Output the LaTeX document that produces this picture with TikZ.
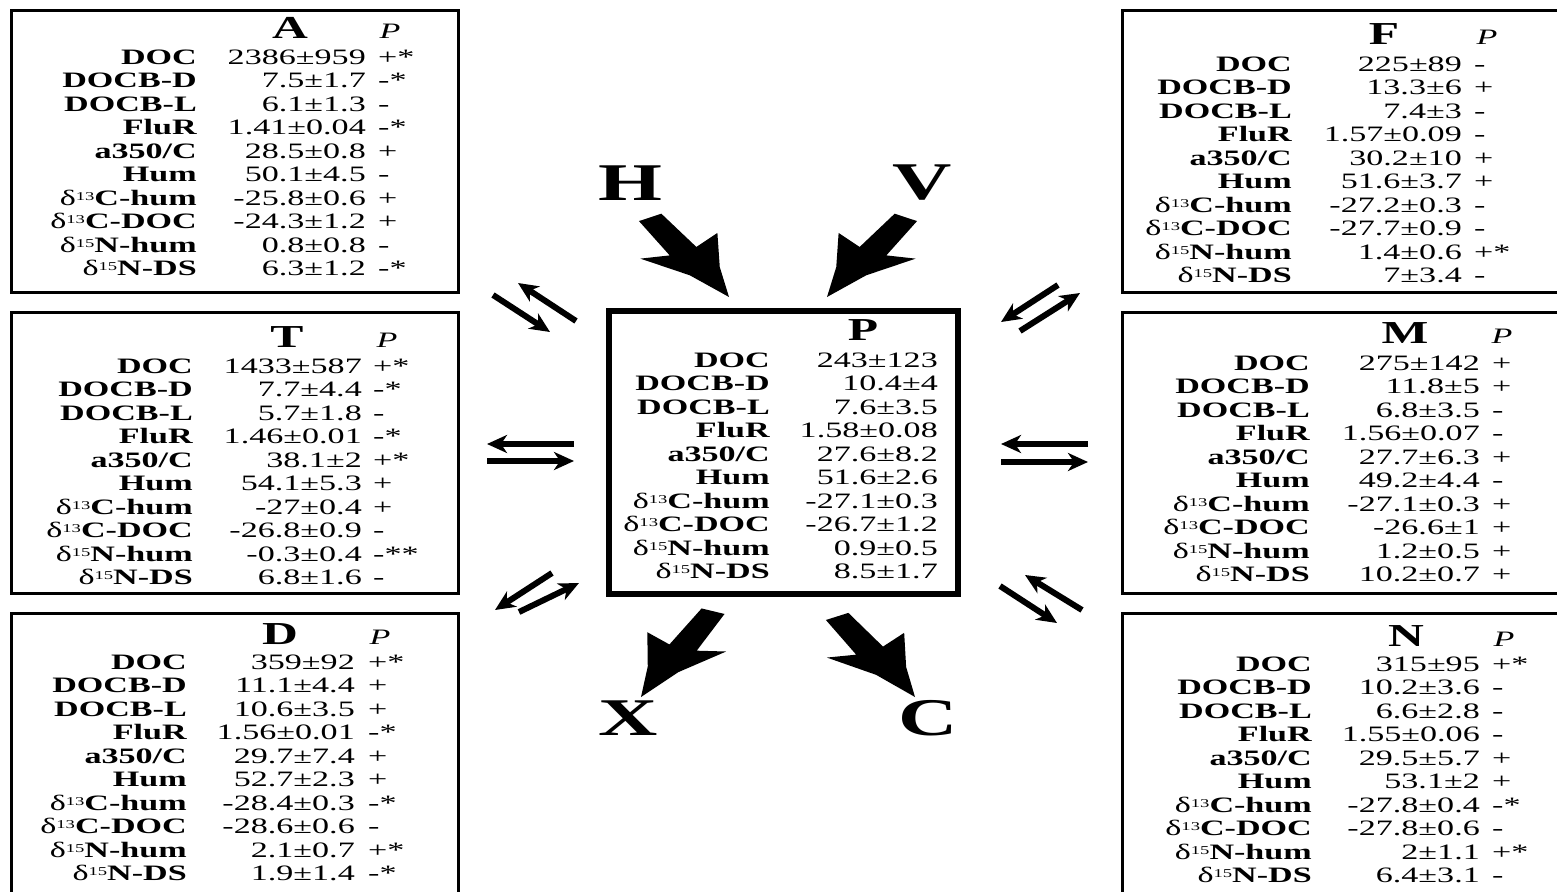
\documentclass[tikz,border=0pt]{standalone}
\usepackage{fontspec}
\setmainfont{Liberation Serif}[FakeStretch=1.55]
\usetikzlibrary{arrows.meta}
\newcommand\dl[1]{{\mdseries δ\raisebox{0.5ex}{\fontsize{12}{12}\selectfont #1}}}
\tikzset{
  lab/.style={font=\fontsize{22}{22}\selectfont\bfseries, inner sep=0pt, anchor=base east},
  val/.style={font=\fontsize{22}{22}\selectfont, inner sep=0pt, anchor=base east},
  sgn/.style={font=\fontsize{22}{22}\selectfont, inner sep=0pt, anchor=base west},
  ttl/.style={font=\fontsize{32}{32}\selectfont\bfseries, inner sep=0pt, anchor=base},
  pcol/.style={font=\fontsize{22}{22}\selectfont\itshape, inner sep=0pt, anchor=base},
  big/.style={font=\fontsize{53}{53}\selectfont\bfseries, inner sep=0pt},
  thinbox/.style={draw, line width=3pt},
  thickbox/.style={draw, line width=6pt},
  sarrow/.style={line width=6pt, -{Stealth[length=20pt,width=18pt,inset=6pt]}},
}
\newcommand\labelcol[3]{%
  \foreach \t [count=\i] in {DOC,DOCB-D,DOCB-L,FluR,a350/C,Hum,{\dl{13}C-hum},{\dl{13}C-DOC},{\dl{15}N-hum},{\dl{15}N-DS}}
    \node[lab] (#1l\i) at (#2,{#3+(\i-1)*23.55}) {\t};}
\newcommand\valcol[4]{%
  \foreach \t [count=\i] in {#4}
    \node[val] (#1v\i) at (#2,{#3+(\i-1)*23.55}) {\t};}
\newcommand\sgncol[4]{%
  \foreach \t [count=\i] in {#4}
    \node[sgn] (#1s\i) at (#2,{#3+(\i-1)*23.55}) {\t};}
% #1 tip coordinate, #2 rotation, #3 yscale (1 or -1)
\newcommand\bigarrow[3]{%
  \begin{scope}[shift={(#1)}, rotate=#2, yscale=#3]
    \fill (0,0) -- (-27.8,-14.5) -- (-53.7,-36.8) -- (-58.5,-12) -- (-106.8,-10.5)
      -- (-117.3,10.6) -- (-71.3,12.9) -- (-89.6,36) -- (-43,12.6) -- cycle;
  \end{scope}}
\begin{document}
\begin{tikzpicture}[x=1pt,y=-1pt]
\clip (0,0) rectangle (1557,891);
\fill[white] (0,0) rectangle (1557,891);
% boxes
\draw[thinbox] (11,11) rectangle (458,292);
\draw[thinbox] (11,312) rectangle (458,593);
\draw[thinbox] (11,613) rectangle (458,905);
\draw[thinbox] (1122,11) rectangle (1575,292);
\draw[thinbox] (1122,312) rectangle (1575,593);
\draw[thinbox] (1122,613) rectangle (1575,905);
\draw[thickbox] (609,311) rectangle (958,594);
% A
\node[ttl] (At) at (290,38) {A};
\node[pcol] (Ap) at (390,38) {P};
\labelcol{A}{197}{64}
\valcol{A}{366}{64}{2386±959,7.5±1.7,6.1±1.3,1.41±0.04,28.5±0.8,50.1±4.5,-25.8±0.6,-24.3±1.2,0.8±0.8,6.3±1.2}
\sgncol{A}{378}{64}{+*,-*,-,-*,+,-,+,+,-,-*}
% T
\node[ttl] (Tt) at (287,347) {T};
\node[pcol] (Tp) at (387,347) {P};
\labelcol{T}{193}{373}
\valcol{T}{362}{373}{1433±587,7.7±4.4,5.7±1.8,1.46±0.01,38.1±2,54.1±5.3,-27±0.4,-26.8±0.9,-0.3±0.4,6.8±1.6}
\sgncol{T}{373}{373}{+*,-*,-,-*,+*,+,+,-,-**,-}
% D
\node[ttl] (Dt) at (280,644) {D};
\node[pcol] (Dp) at (380,644) {P};
\labelcol{D}{187}{669}
\valcol{D}{355}{669}{359±92,11.1±4.4,10.6±3.5,1.56±0.01,29.7±7.4,52.7±2.3,-28.4±0.3,-28.6±0.6,2.1±0.7,1.9±1.4}
\sgncol{D}{368}{669}{+*,+,+,-*,+,+,-*,-,+*,-*}
% F
\node[ttl] (Ft) at (1384,45) {F};
\node[pcol] (Fp) at (1487,45) {P};
\labelcol{F}{1292}{71}
\valcol{F}{1462}{71}{225±89,13.3±6,7.4±3,1.57±0.09,30.2±10,51.6±3.7,-27.2±0.3,-27.7±0.9,1.4±0.6,7±3.4}
\sgncol{F}{1474}{71}{-,+,-,-,+,+,-,-,+*,-}
% M
\node[ttl] (Mt) at (1405,343) {M};
\node[pcol] (Mp) at (1502,343) {P};
\labelcol{M}{1310}{370}
\valcol{M}{1480}{370}{275±142,11.8±5,6.8±3.5,1.56±0.07,27.7±6.3,49.2±4.4,-27.1±0.3,-26.6±1,1.2±0.5,10.2±0.7}
\sgncol{M}{1492}{370}{+,+,-,-,+,-,+,+,+,+}
% N
\node[ttl] (Nt) at (1406,646) {N};
\node[pcol] (Np) at (1504,646) {P};
\labelcol{N}{1312}{671}
\valcol{N}{1480}{671}{315±95,10.2±3.6,6.6±2.8,1.55±0.06,29.5±5.7,53.1±2,-27.8±0.4,-27.8±0.6,2±1.1,6.4±3.1}
\sgncol{N}{1492}{671}{+*,-,-,-,+,+,-*,-,+*,-}
% P
\node[ttl] (Pt) at (863,340) {P};
\labelcol{P}{770}{367}
\valcol{P}{938}{367}{243±123,10.4±4,7.6±3.5,1.58±0.08,27.6±8.2,51.6±2.6,-27.1±0.3,-26.7±1.2,0.9±0.5,8.5±1.7}
% big labels
\node[big] (H) at (630,183) {H};
\node[big] (V) at (922,183) {V};
\node[big] (X) at (628,718) {X};
\node[big] (C) at (928,718) {C};
% big arrows
\coordinate (Htip) at (729,297);
\coordinate (Vtip) at (827,297);
\coordinate (Xtip) at (641,697);
\coordinate (Ctip) at (915,697);
\bigarrow{Htip}{-45.3}{1}
\bigarrow{Vtip}{-134.7}{-1}
\bigarrow{Xtip}{-130}{-1}
\bigarrow{Ctip}{-46}{1}
% small exchange arrows
\coordinate (lt1a) at (493,295); \coordinate (lt1b) at (550,332);
\coordinate (lt2a) at (576,321); \coordinate (lt2b) at (518,283);
\coordinate (lm1a) at (574,444); \coordinate (lm1b) at (487,444);
\coordinate (lm2a) at (487,461); \coordinate (lm2b) at (574,461);
\coordinate (lb1a) at (552,573); \coordinate (lb1b) at (495,610);
\coordinate (lb2a) at (519,612); \coordinate (lb2b) at (579,583);
\coordinate (rt1a) at (1058,285); \coordinate (rt1b) at (1001,322);
\coordinate (rt2a) at (1020,331); \coordinate (rt2b) at (1080,293);
\coordinate (rm1a) at (1088,444); \coordinate (rm1b) at (1001,444);
\coordinate (rm2a) at (1001,462); \coordinate (rm2b) at (1088,462);
\coordinate (rb1a) at (1000,586); \coordinate (rb1b) at (1057,623);
\coordinate (rb2a) at (1082,610); \coordinate (rb2b) at (1025,575);
\foreach \p in {lt1,lt2,lm1,lm2,lb1,lb2,rt1,rt2,rm1,rm2,rb1,rb2}
  \draw[sarrow] (\p a) -- (\p b);
\end{tikzpicture}
\end{document}
